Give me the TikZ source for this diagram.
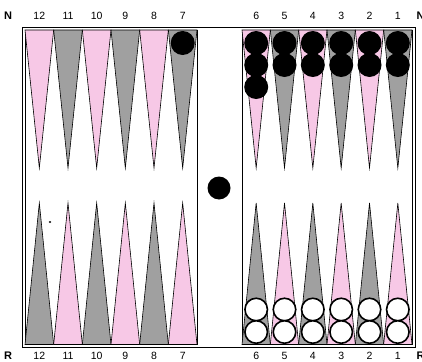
\documentclass[tikz,border=0pt]{standalone}
\usepackage{fontspec}
\setmainfont{Liberation Sans}
\definecolor{pinkpt}{RGB}{247,200,230}
\definecolor{graypt}{RGB}{160,160,160}
\begin{document}
\begin{tikzpicture}[x=1pt,y=-1pt,
  pointline/.style={draw=black, line width=0.6pt, line join=miter},
  framel/.style={draw=black, line width=0.8pt},
  blackchk/.style={circle, fill=black, minimum size=24pt, inner sep=0pt},
  whitechk/.style={circle, draw=black, fill=white, line width=1.6pt, minimum size=22.5pt, inner sep=0pt},
  lbl/.style={font=\fontsize{10.5}{12}\selectfont, inner sep=0pt},
  blbl/.style={font=\fontsize{11}{13}\selectfont\bfseries, inner sep=0pt}]
\useasboundingbox (0,0) rectangle (422,361);
\fill[white] (0,0) rectangle (422,361);
% frames
\draw[framel] (22,27) rectangle (415,347.5);
\draw[framel] (25,30) rectangle (197,344.5);
\draw[framel] (242,30) rectangle (412,344.5);
% points
\foreach \i in {0,...,11}{
  \pgfmathsetmacro\xl{\i<6 ? 25+\i*28.667 : 242+(\i-6)*28.333}
  \pgfmathsetmacro\w{\i<6 ? 28.667 : 28.333}
  \pgfmathsetmacro\xr{\xl+\w}
  \pgfmathsetmacro\xm{\xl+\w/2}
  \pgfmathtruncatemacro\pp{mod(\i,2)}
  \ifnum\pp=0 \def\topc{pinkpt}\def\botc{graypt}\else \def\topc{graypt}\def\botc{pinkpt}\fi
  \filldraw[pointline, fill=\topc] (\xl,30) -- (\xr,30) -- (\xm,168) -- cycle;
  \filldraw[pointline, fill=\botc] (\xl,344.5) -- (\xr,344.5) -- (\xm,203) -- cycle;
}
% labels
\node[blbl] (nl) at (8,16) {N};
\node[blbl] (nr) at (420.5,16) {N};
\node[blbl] (rl) at (8,355.5) {R};
\node[blbl] (rr) at (420.5,355.5) {R};
\foreach \n [count=\k from 0] in {12,11,10,9,8,7,6,5,4,3,2,1}{
  \pgfmathsetmacro\xm{\k<6 ? 25+(\k+0.5)*28.667 : 242+(\k-5.5)*28.333}
  \node[lbl] (t\n) at (\xm,16) {\n};
  \node[lbl] (b\n) at (\xm,355.5) {\n};
}
% black checkers
\node[blackchk] (k7a) at (182.7,43) {};
\foreach \y [count=\j] in {43,65,87}{
  \node[blackchk] (k6\j) at (256.2,\y) {};
}
\foreach \x [count=\p from 5] in {284.5,312.8,341.2,369.5,397.8}{
  \node[blackchk] (kA\p) at (\x,43) {};
  \node[blackchk] (kB\p) at (\x,65) {};
}
\node[blackchk, minimum size=23pt] (kbar) at (219,188) {};
% white checkers
\foreach \x [count=\p] in {256.2,284.5,312.8,341.2,369.5,397.8}{
  \node[whitechk] (wA\p) at (\x,309.5) {};
  \node[whitechk] (wB\p) at (\x,332) {};
}
% speck
\fill[black] (50,222) ellipse (1.3 and 1);
\end{tikzpicture}
\end{document}
